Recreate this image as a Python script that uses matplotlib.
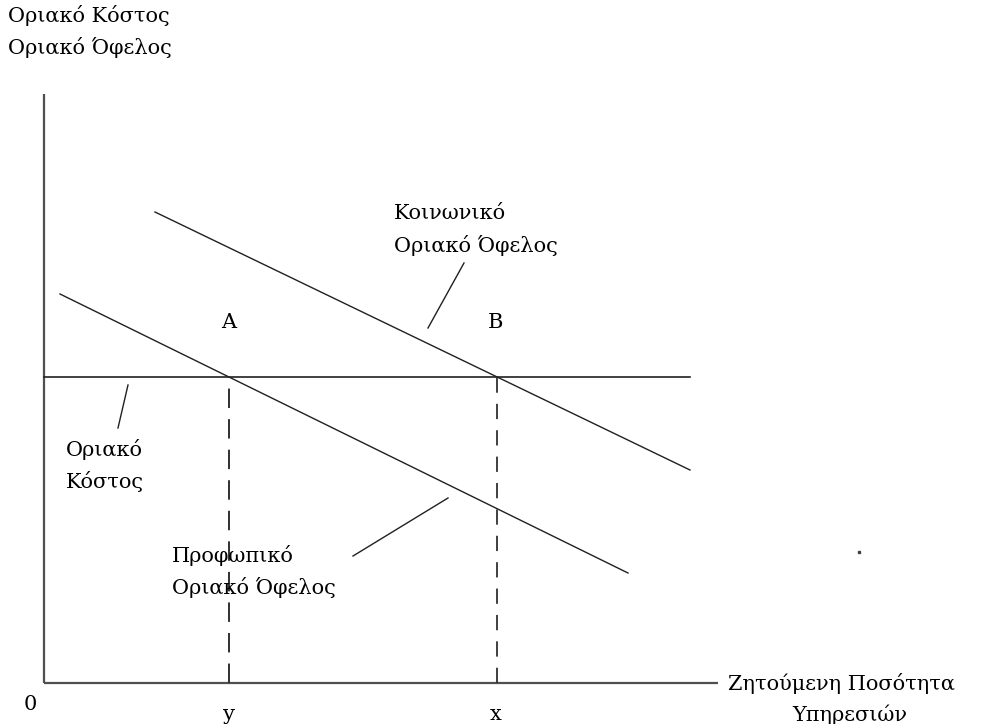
import matplotlib
matplotlib.use("Agg")
import matplotlib.pyplot as plt
import numpy as np

plt.rcParams['lines.scale_dashes'] = False
plt.rcParams['font.family'] = ['DejaVu Serif', 'Liberation Serif']

# Data (units: quantity, price) -- schematic diagram
mc_level = 30.6
private_q = [1.6, 58.4]
private_p = [38.9, 11.0]
social_q = [11.1, 64.6]
social_p = [47.1, 21.3]
axis_q_max = 67.4
axis_p_max = 58.9
mc_q_max = 64.6
stray_dot = (81.5, 13.1)

point_labels = ["A", "B"]
qty_labels = ["y", "x"]

def cross(qs, ps, level):
    slope = (ps[1] - ps[0]) / (qs[1] - qs[0])
    return qs[0] + (level - ps[0]) / slope

qa = cross(private_q, private_p, mc_level)
qb = cross(social_q, social_p, mc_level)

fig = plt.figure(figsize=(9.84, 7.24), dpi=100)
ax = fig.add_axes([0, 0, 1, 1])
ax.set_xlim(-4.4, 94.0)
ax.set_ylim(-4.1, 68.3)
ax.axis('off')

axc = '#505050'
lc = '#202020'
# axes
ax.plot([0, 0], [0, axis_p_max], color=axc, lw=1.6, solid_capstyle='butt')
ax.plot([0, axis_q_max], [0, 0], color=axc, lw=1.6, solid_capstyle='butt')

# curves
ax.plot([0, mc_q_max], [mc_level, mc_level], color=lc, lw=1.2)
ax.plot(private_q, private_p, color=lc, lw=1.0)
ax.plot(social_q, social_p, color=lc, lw=1.0)

# dashed verticals
ax.plot([qa, qa], [0, mc_level], color='#303030', lw=1.4, dashes=(14, 8))
ax.plot([qb, qb], [0, mc_level], color='#303030', lw=1.3, dashes=(11, 8))

# stray dot
ax.plot([stray_dot[0]], [stray_dot[1]], 's', color='#404040', ms=1.5)

fs = 15
ax.text(qa, mc_level + 5.4, point_labels[0], ha='center', va='center', fontsize=fs)
ax.text(qb - 0.2, mc_level + 5.4, point_labels[1], ha='center', va='center', fontsize=fs)
ax.text(qa, -3.2, qty_labels[0], ha='center', va='center', fontsize=fs)
ax.text(qb - 0.2, -3.2, qty_labels[1], ha='center', va='center', fontsize=fs)
ax.text(-1.4, -2.2, "0", ha='center', va='center', fontsize=fs)

# axis titles
ax.text(-3.6, 66.7, "Οριακό Κόστος", ha='left', va='center', fontsize=fs)
ax.text(-3.6, 63.5, "Οριακό Όφελος", ha='left', va='center', fontsize=fs)
ax.text(68.4, 0.0, "Ζητούμενη Ποσότητα", ha='left', va='center', fontsize=fs)
ax.text(80.6, -3.2, "Υπηρεσιών", ha='center', va='center', fontsize=fs)

# curve labels with pointer lines
ax.text(2.2, 23.3, "Οριακό", ha='left', va='center', fontsize=fs)
ax.text(2.2, 20.1, "Κόστος", ha='left', va='center', fontsize=fs)
ax.plot([8.4, 7.4], [29.8, 25.5], color=lc, lw=1.0)

ax.text(35.0, 47.0, "Κοινωνικό", ha='left', va='center', fontsize=fs)
ax.text(35.0, 43.8, "Οριακό Όφελος", ha='left', va='center', fontsize=fs)
ax.plot([42.0, 38.4], [42.0, 35.5], color=lc, lw=1.0)

ax.text(12.8, 12.7, "Προφωπικό", ha='left', va='center', fontsize=fs)
ax.text(12.8, 9.5, "Οριακό Όφελος", ha='left', va='center', fontsize=fs)
ax.plot([40.4, 30.9], [18.5, 12.7], color=lc, lw=1.0)

fig.savefig("out.png", dpi=100)
